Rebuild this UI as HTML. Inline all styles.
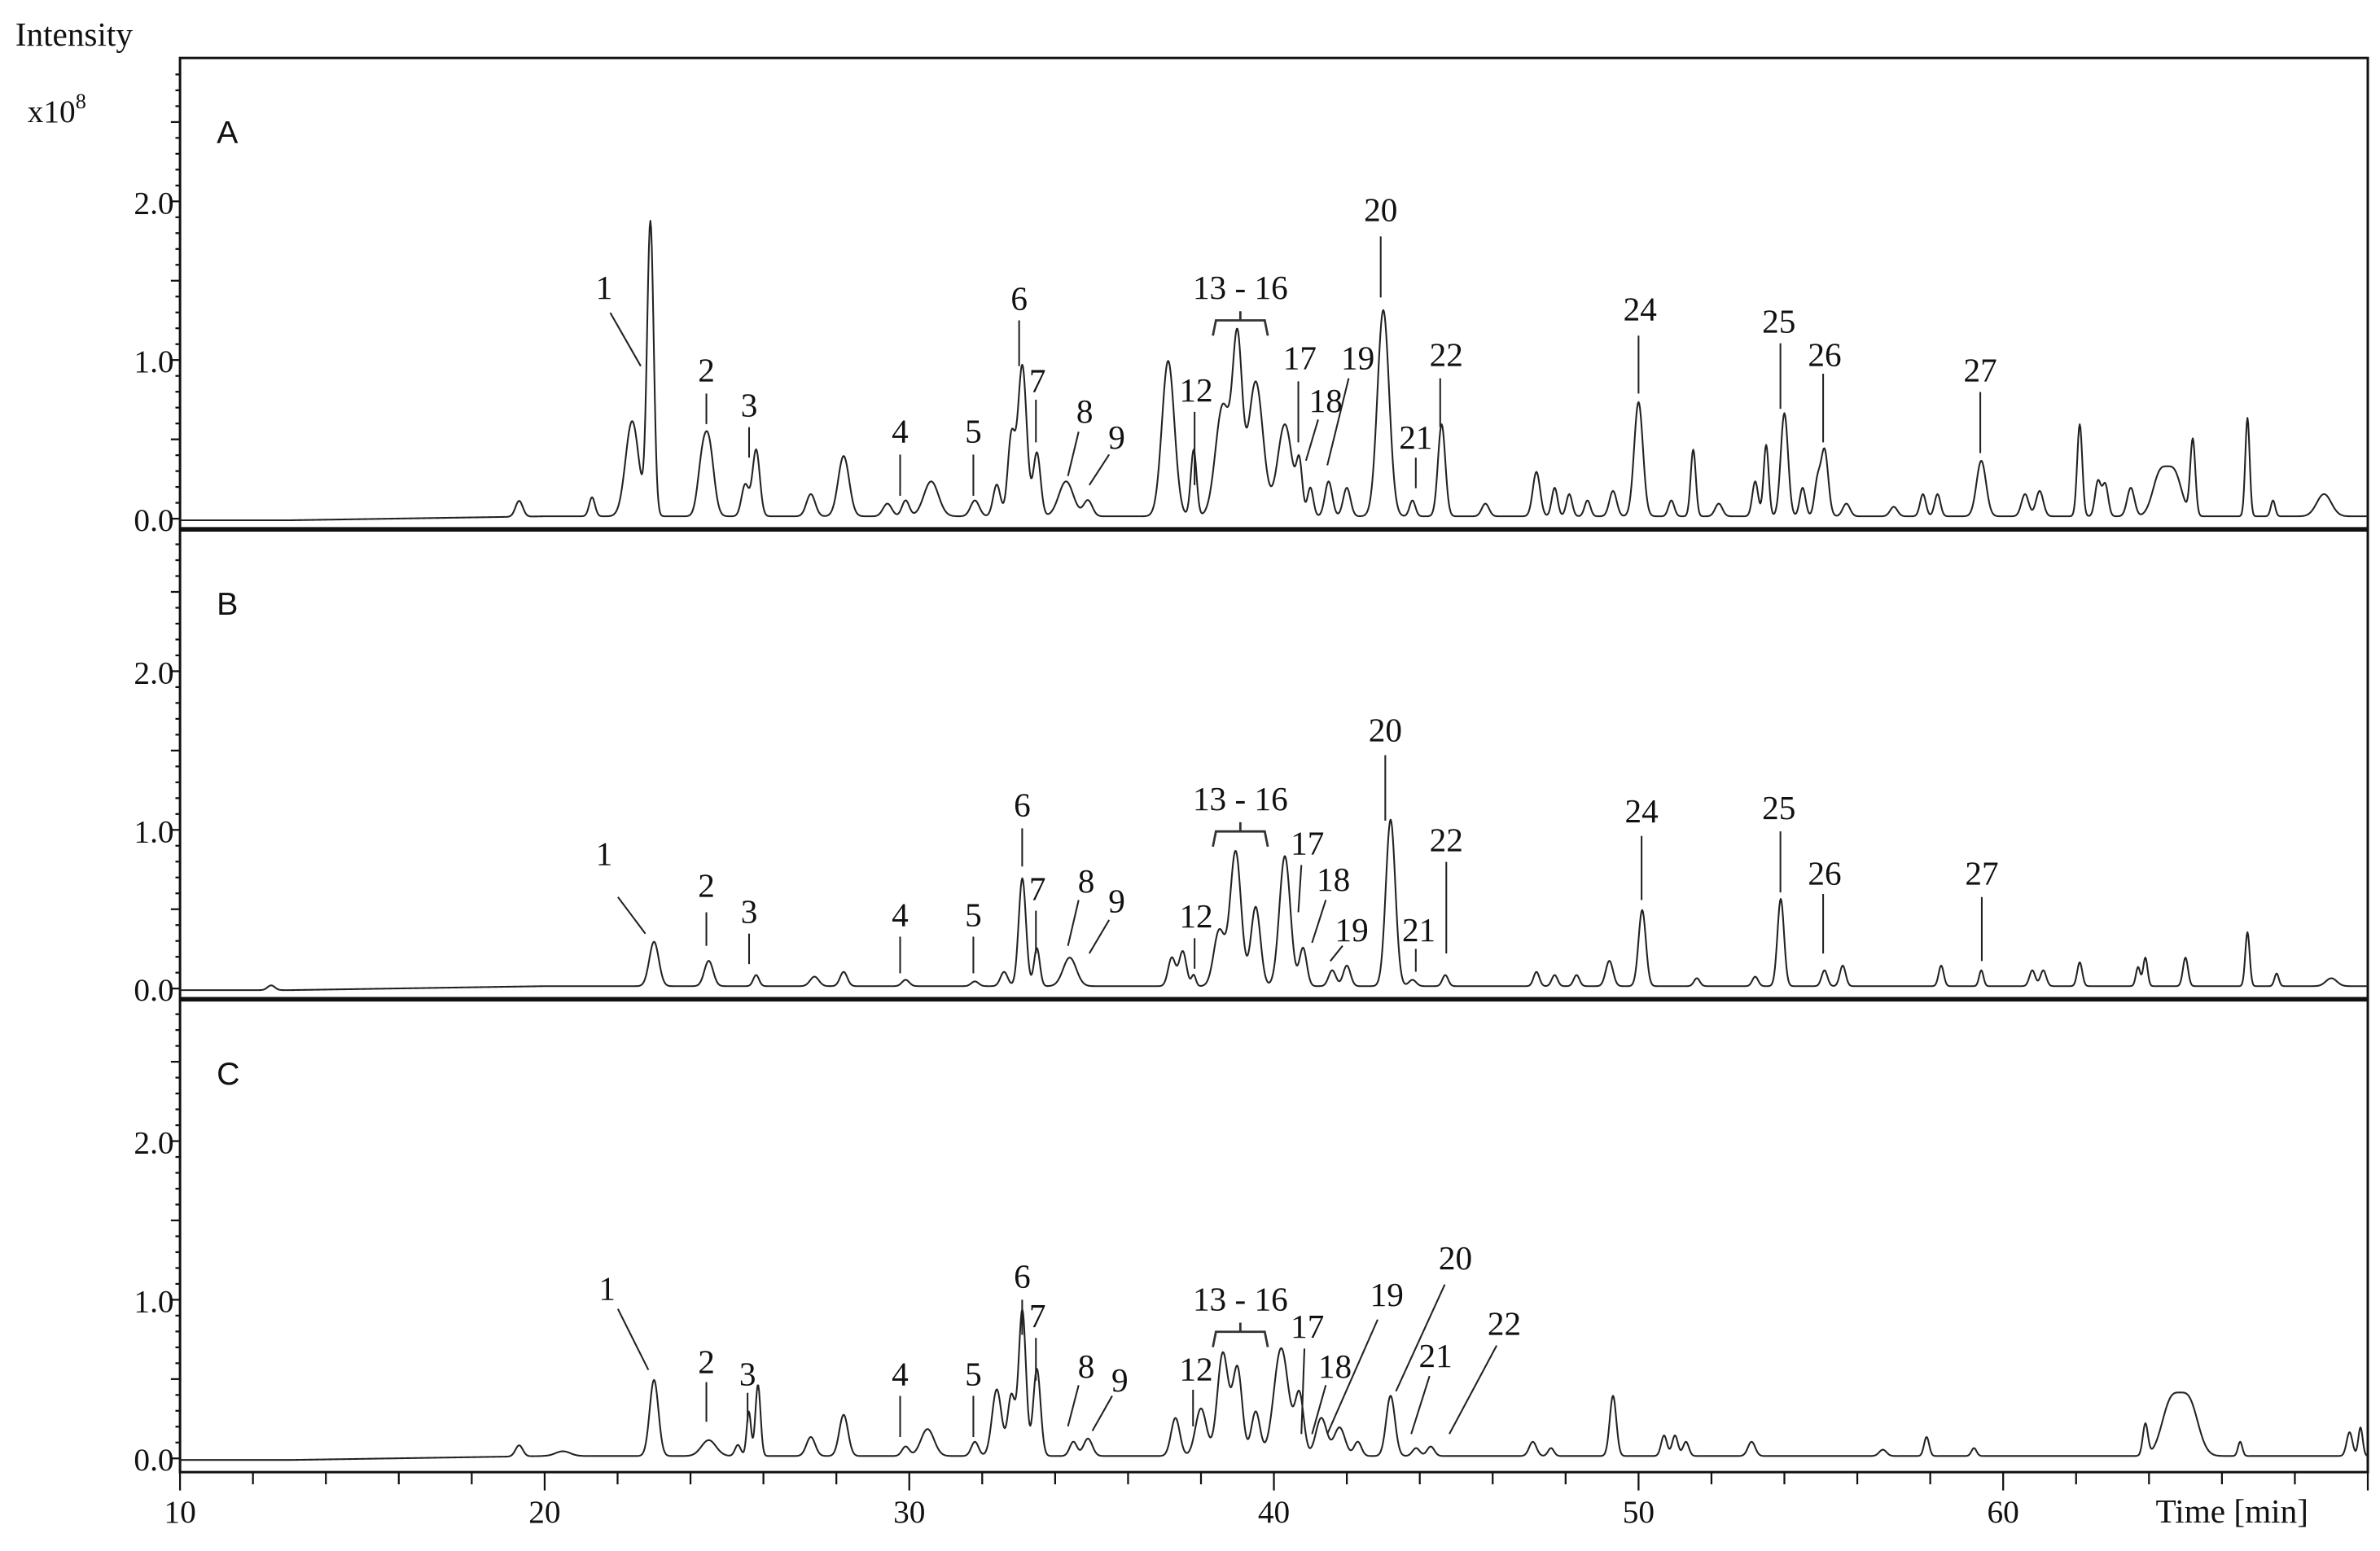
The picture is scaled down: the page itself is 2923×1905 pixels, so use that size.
<!DOCTYPE html>
<html><head><meta charset="utf-8"><style>
html,body{margin:0;padding:0;background:#fff}
svg{display:block}
text{font-family:"Liberation Serif",serif;fill:#111}
.sans{font-family:"Liberation Sans",sans-serif}
</style></head><body>
<svg id="chart" width="2923" height="1905" viewBox="0 0 1560 1016.7" preserveAspectRatio="none" xmlns="http://www.w3.org/2000/svg">
<g id="frame"></g>
<g id="traces"></g>
<g id="annots"></g>
<text x="10" y="30" font-size="22">Intensity</text>
<text x="18" y="80" font-size="21">x10<tspan dy="-9" font-size="14">8</tspan></text>
<text x="1413" y="998" font-size="22">Time [min]</text>
</svg>
<script>
// ---- data (retention time min, height x1e8, sigma min) ----
const peaksA_t=[19.3,21.3,22.4,22.9,24.3,24.5,25.5,25.8,27.3,28.2,29.4,29.9,30.6,31.8,32.4,32.8,33.1,33.5,34.3,34.9,37.1,37.8,38.6,39.0,39.5,40.3,40.7,41.0,41.5,42.0,43.0,43.8,44.6,45.8,47.2,47.7,48.1,48.6,49.3,50.0,50.9,51.5,52.2,53.2,53.5,54.0,54.5,54.9,55.1,55.7,57.0,57.8,58.2,59.4,60.6,61.0,62.1,62.6,62.8,63.5,64.3,64.7,65.2,66.7,67.4,68.8];
const peaksA_h=[0.1,0.12,0.6,1.85,0.25,0.45,0.2,0.42,0.14,0.38,0.08,0.1,0.22,0.1,0.2,0.5,0.95,0.4,0.22,0.1,0.98,0.42,0.7,1.05,0.85,0.58,0.3,0.18,0.22,0.18,1.3,0.1,0.58,0.08,0.28,0.18,0.14,0.1,0.16,0.72,0.1,0.42,0.08,0.22,0.45,0.65,0.18,0.2,0.42,0.08,0.06,0.14,0.14,0.35,0.14,0.16,0.58,0.22,0.2,0.18,0.26,0.26,0.48,0.62,0.1,0.14];
const peaksA_w=[0.1,0.08,0.18,0.09,0.12,0.14,0.1,0.1,0.12,0.15,0.12,0.1,0.2,0.12,0.1,0.1,0.12,0.1,0.2,0.12,0.17,0.08,0.2,0.13,0.2,0.2,0.08,0.08,0.1,0.1,0.16,0.08,0.1,0.1,0.1,0.08,0.08,0.08,0.1,0.12,0.08,0.07,0.1,0.08,0.07,0.1,0.08,0.08,0.1,0.1,0.1,0.08,0.08,0.13,0.1,0.1,0.07,0.08,0.08,0.1,0.2,0.2,0.07,0.06,0.06,0.2];
const peaksB_t=[12.5,23.0,24.5,25.8,27.4,28.2,29.9,31.8,32.6,33.1,33.5,34.4,37.2,37.5,37.8,38.5,38.95,39.5,40.3,40.8,41.6,42.0,43.2,43.8,44.7,47.2,47.7,48.3,49.2,50.1,51.6,53.2,53.9,55.1,55.6,58.3,59.4,60.8,61.1,62.1,63.7,63.9,65.0,66.7,67.5,69.0];
const peaksB_h=[0.03,0.28,0.16,0.07,0.06,0.09,0.04,0.03,0.09,0.68,0.24,0.18,0.18,0.22,0.07,0.35,0.85,0.5,0.82,0.24,0.1,0.13,1.05,0.04,0.07,0.09,0.07,0.07,0.16,0.48,0.05,0.06,0.55,0.1,0.13,0.13,0.1,0.1,0.1,0.15,0.12,0.18,0.18,0.34,0.08,0.05];
const peaksB_w=[0.1,0.13,0.12,0.08,0.12,0.1,0.1,0.1,0.1,0.1,0.08,0.18,0.1,0.1,0.06,0.15,0.15,0.13,0.15,0.1,0.1,0.1,0.13,0.1,0.08,0.08,0.08,0.08,0.1,0.1,0.08,0.08,0.09,0.08,0.08,0.07,0.06,0.08,0.08,0.07,0.06,0.06,0.07,0.06,0.06,0.15];
const peaksC_t=[19.3,20.5,23.0,24.5,25.3,25.6,25.85,27.3,28.2,29.9,30.5,31.8,32.4,32.8,33.1,33.5,34.5,34.9,37.3,38.0,38.6,39.0,39.5,40.2,40.7,41.3,41.8,42.3,43.2,43.9,44.3,47.1,47.6,49.3,50.7,51.0,51.3,53.1,56.7,57.9,59.2,63.9,64.6,65.1,66.5,69.5,69.8];
const peaksC_h=[0.07,0.03,0.48,0.1,0.07,0.28,0.45,0.12,0.26,0.06,0.17,0.09,0.42,0.38,0.92,0.55,0.09,0.11,0.24,0.3,0.65,0.55,0.28,0.68,0.38,0.24,0.18,0.09,0.38,0.05,0.06,0.09,0.05,0.38,0.13,0.13,0.09,0.09,0.04,0.12,0.05,0.2,0.33,0.33,0.09,0.15,0.18];
const peaksC_w=[0.1,0.2,0.12,0.2,0.08,0.06,0.07,0.12,0.12,0.1,0.18,0.1,0.13,0.1,0.1,0.1,0.1,0.12,0.12,0.15,0.15,0.13,0.12,0.2,0.12,0.15,0.15,0.1,0.12,0.1,0.1,0.1,0.08,0.09,0.08,0.08,0.08,0.1,0.1,0.07,0.07,0.07,0.25,0.25,0.06,0.08,0.06];
const xTicks=[10,20,30,40,50,60];
const yTicks=[0.0,1.0,2.0];
const panelNames=["A","B","C"];

// ---- layout ----
const NS="http://www.w3.org/2000/svg";
const L=118,R=1552,T=38;
const panelTop=[38,347,655], panelBot=[347,655,965], zeroY=[340,648,956];
const unit=104;
const xs=t=>L+(t-10)*(R-L)/60;
function mk(tag,attrs,parent){const e=document.createElementNS(NS,tag);for(const k in attrs)e.setAttribute(k,attrs[k]);parent.appendChild(e);return e;}
const frame=document.getElementById('frame'),traces=document.getElementById('traces'),ann=document.getElementById('annots');

let fr=mk('rect',{x:L,y:T,width:R-L,height:965-T,fill:'none',stroke:'#111','stroke-width':1.6},frame);


[347,655].forEach(y=>{const d=mk('line',{x1:L,x2:R,y1:y,y2:y,stroke:'#111','stroke-width':3},frame);

});
for(let t=10;t<=70;t+=2){const big=(t%10===0);const tk=mk('line',{x1:xs(t),x2:xs(t),y1:965,y2:965+(big?12:8),stroke:'#111','stroke-width':1.2},frame);

}
xTicks.forEach(t=>{const tx=mk('text',{x:xs(t),y:998,'font-size':21,'text-anchor':'middle'},frame);tx.textContent=t;

});
for(let p=0;p<3;p++){
  for(let v=-0.3;v<=2.95;v+=0.1){const y=zeroY[p]-v*unit;if(y<panelTop[p]+2||y>panelBot[p]-1)continue;
    const r=Math.round(v*10);const len=(r%5===0)?6:3;
    const tk=mk('line',{x1:L-len,x2:L,y1:y,y2:y,stroke:'#111','stroke-width':1.2},frame);
    
    }
  yTicks.forEach(v=>{const tx=mk('text',{x:L-4,y:zeroY[p]-v*unit+8,'font-size':21,'text-anchor':'end'},frame);tx.textContent=v.toFixed(1);
    
    });
  const pl=mk('text',{x:142,y:panelTop[p]+56,'font-size':21,'class':'sans'},frame);pl.textContent=panelNames[p];
  
  
}
const sets=[[peaksA_t,peaksA_h,peaksA_w],[peaksB_t,peaksB_h,peaksB_w],[peaksC_t,peaksC_h,peaksC_w]];
sets.forEach((s,p)=>{
  let d='';
  for(let t=10;t<=70.001;t+=0.02){
    let v=-0.01+0.025*Math.min(1,Math.max(0,(t-13)/7));
    for(let i=0;i<s[0].length;i++){const z=(t-s[0][i])/s[2][i];if(Math.abs(z)<6)v+=s[1][i]*Math.exp(-0.5*z*z);}
    d+=(d?'L':'M')+xs(t).toFixed(2)+','+(zeroY[p]-v*unit).toFixed(2);
  }
  const path=mk('path',{d:d,fill:'none',stroke:'#222','stroke-width':1.1,'stroke-linejoin':'round'},traces);
  
  
});
const annA=[["1",396,196,400,205,420,240],["2",463,250,463,258,463,278],["3",491,273,491,280,491,300],["4",590,290,590,298,590,325],["5",638,290,638,298,638,325],["6",668,203,668,210,668,240],["7",680,257,679,262,679,290],["8",711,277,707,283,700,312],["9",732,294,727,298,714,318],["12",784,263,783,270,783,318],["17",852,242,851,250,851,290],["18",869,270,864,275,856,302],["19",890,242,884,248,870,305],["20",905,145,905,155,905,195],["21",928,294,928,300,928,320],["22",948,240,944,248,944,280],["24",1075,210,1074,220,1074,258],["25",1166,218,1167,225,1167,268],["26",1196,240,1195,245,1195,290],["27",1298,250,1298,257,1298,297]];
const annB=[["1",396,567,405,588,423,612],["2",463,588,463,598,463,620],["3",491,605,491,612,491,632],["4",590,607,590,614,590,638],["5",638,607,638,614,638,638],["6",670,535,670,543,670,568],["7",680,590,679,597,679,625],["8",712,585,707,590,700,620],["9",732,598,727,603,714,625],["12",784,608,783,615,783,635],["17",857,560,853,567,851,598],["18",874,584,869,590,860,618],["19",886,617,880,620,872,630],["20",908,486,908,495,908,538],["21",930,617,928,622,928,637],["22",948,558,948,565,948,625],["24",1076,539,1076,548,1076,590],["25",1166,537,1167,545,1167,585],["26",1196,580,1195,586,1195,625],["27",1299,580,1299,588,1299,630]];
const annC=[["1",398,852,405,858,425,898],["2",463,900,463,906,463,932],["3",490,908,490,913,490,932],["4",590,908,590,915,590,942],["5",638,908,638,915,638,942],["6",670,844,670,852,670,875],["7",680,870,679,877,679,905],["8",712,903,707,908,700,935],["9",734,912,729,915,716,938],["12",784,905,782,911,782,935],["17",857,877,855,884,853,940],["18",875,903,869,908,860,940],["19",909,856,903,865,870,940],["20",954,832,947,842,915,912],["21",941,896,937,902,925,940],["22",986,875,981,882,950,940]];
const brY=[210,545,873];
[annA,annB,annC].forEach((arr,p)=>{
  arr.forEach(a=>{
    const tx=mk('text',{x:a[1],y:a[2],'font-size':22,'text-anchor':'middle'},ann);tx.textContent=a[0];
    
    
    const ln=mk('line',{x1:a[3],y1:a[4],x2:a[5],y2:a[6],stroke:'#222','stroke-width':1.1},ann);
    
    
  });
  const by=brY[p];
  const t=mk('text',{x:813,y:by-14,'font-size':22,'text-anchor':'middle'},ann);t.textContent="13 - 16";
  
  
  const br=mk('path',{d:`M795,${by+10}L797,${by}L829,${by}L831,${by+10}M813,${by}L813,${by-6}`,fill:'none',stroke:'#333','stroke-width':1.5},ann);
  
  
});
</script>
</body></html>
